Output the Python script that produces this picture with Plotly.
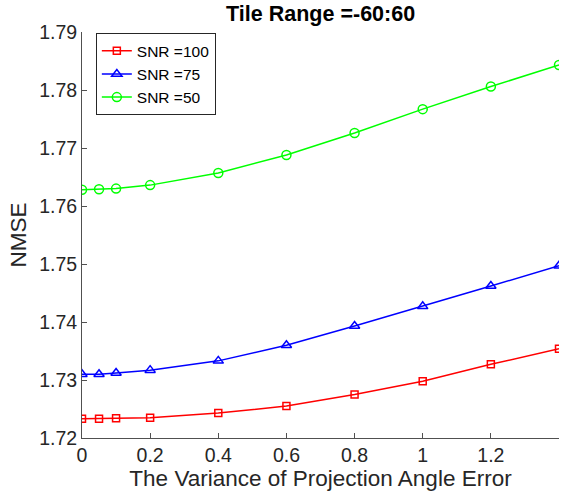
import plotly.graph_objects as go

variance = [0, 0.05, 0.1, 0.2, 0.4, 0.6, 0.8, 1.0, 1.2, 1.4]
nmse_snr100 = [1.7233, 1.7233, 1.7234, 1.7235, 1.7243, 1.7255, 1.7275, 1.7298, 1.7327, 1.7354]
nmse_snr75 = [1.7310, 1.7310, 1.7312, 1.7317, 1.7333, 1.7360, 1.7393, 1.7427, 1.7462, 1.7497]
nmse_snr50 = [1.7628, 1.7629, 1.7630, 1.7636, 1.7657, 1.7688, 1.7726, 1.7767, 1.7806, 1.7843]

x_ticks = [0, 0.2, 0.4, 0.6, 0.8, 1.0, 1.2]
x_tick_labels = ["0", "0.2", "0.4", "0.6", "0.8", "1", "1.2"]
y_ticks = [1.72, 1.73, 1.74, 1.75, 1.76, 1.77, 1.78, 1.79]
y_tick_labels = ["1.72", "1.73", "1.74", "1.75", "1.76", "1.77", "1.78", "1.79"]

series = [
    ("SNR =100", nmse_snr100, "#ff0000", "square-open", 7),
    ("SNR =75", nmse_snr75, "#0000ff", "triangle-up-open", 9),
    ("SNR =50", nmse_snr50, "#00ff00", "circle-open", 9),
]

fig = go.Figure()
for name, vals, color, symbol, size in series:
    fig.add_trace(go.Scatter(
        x=variance, y=vals, name=name, mode="lines+markers",
        line=dict(color=color, width=1.5),
        marker=dict(symbol=symbol, size=size, color=color,
                    line=dict(color=color, width=1.5)),
    ))

axis_color = "#505050"
font_family = "Liberation Sans, Arial, sans-serif"

fig.update_layout(
    width=562, height=492,
    margin=dict(l=82, r=3, t=32, b=54),
    paper_bgcolor="white", plot_bgcolor="white",
    font=dict(family=font_family, color="#262626"),
    title=dict(text="<b>Tile Range =-60:60</b>", x=0.5705, xanchor="center",
               y=0.972, yanchor="middle",
               font=dict(size=21.5, color="black", family=font_family)),
    showlegend=True,
    legend=dict(x=0.029, y=0.997, xanchor="left", yanchor="top",
                bgcolor="white", bordercolor="#262626", borderwidth=1,
                font=dict(size=15.5, color="black", family=font_family),
                itemwidth=30, tracegroupgap=0),
)
fig.update_xaxes(
    range=[0, 1.4], tickvals=x_ticks, ticktext=x_tick_labels,
    showgrid=False, zeroline=False, showline=True, linecolor=axis_color,
    linewidth=1, ticks="inside", ticklen=5, tickcolor=axis_color,
    tickfont=dict(size=19.5, color="#262626"),
    title=dict(text="The Variance of Projection Angle Error", standoff=4,
               font=dict(size=22.5, color="#262626")),
)
fig.update_yaxes(
    range=[1.72, 1.79], tickvals=y_ticks, ticktext=y_tick_labels,
    showgrid=False, zeroline=False, showline=True, linecolor=axis_color,
    linewidth=1, ticks="inside", ticklen=5, tickcolor=axis_color,
    tickfont=dict(size=19.5, color="#262626"),
    title=dict(text="NMSE", standoff=6, font=dict(size=22.5, color="#262626")),
)

fig.write_html("out.html")
